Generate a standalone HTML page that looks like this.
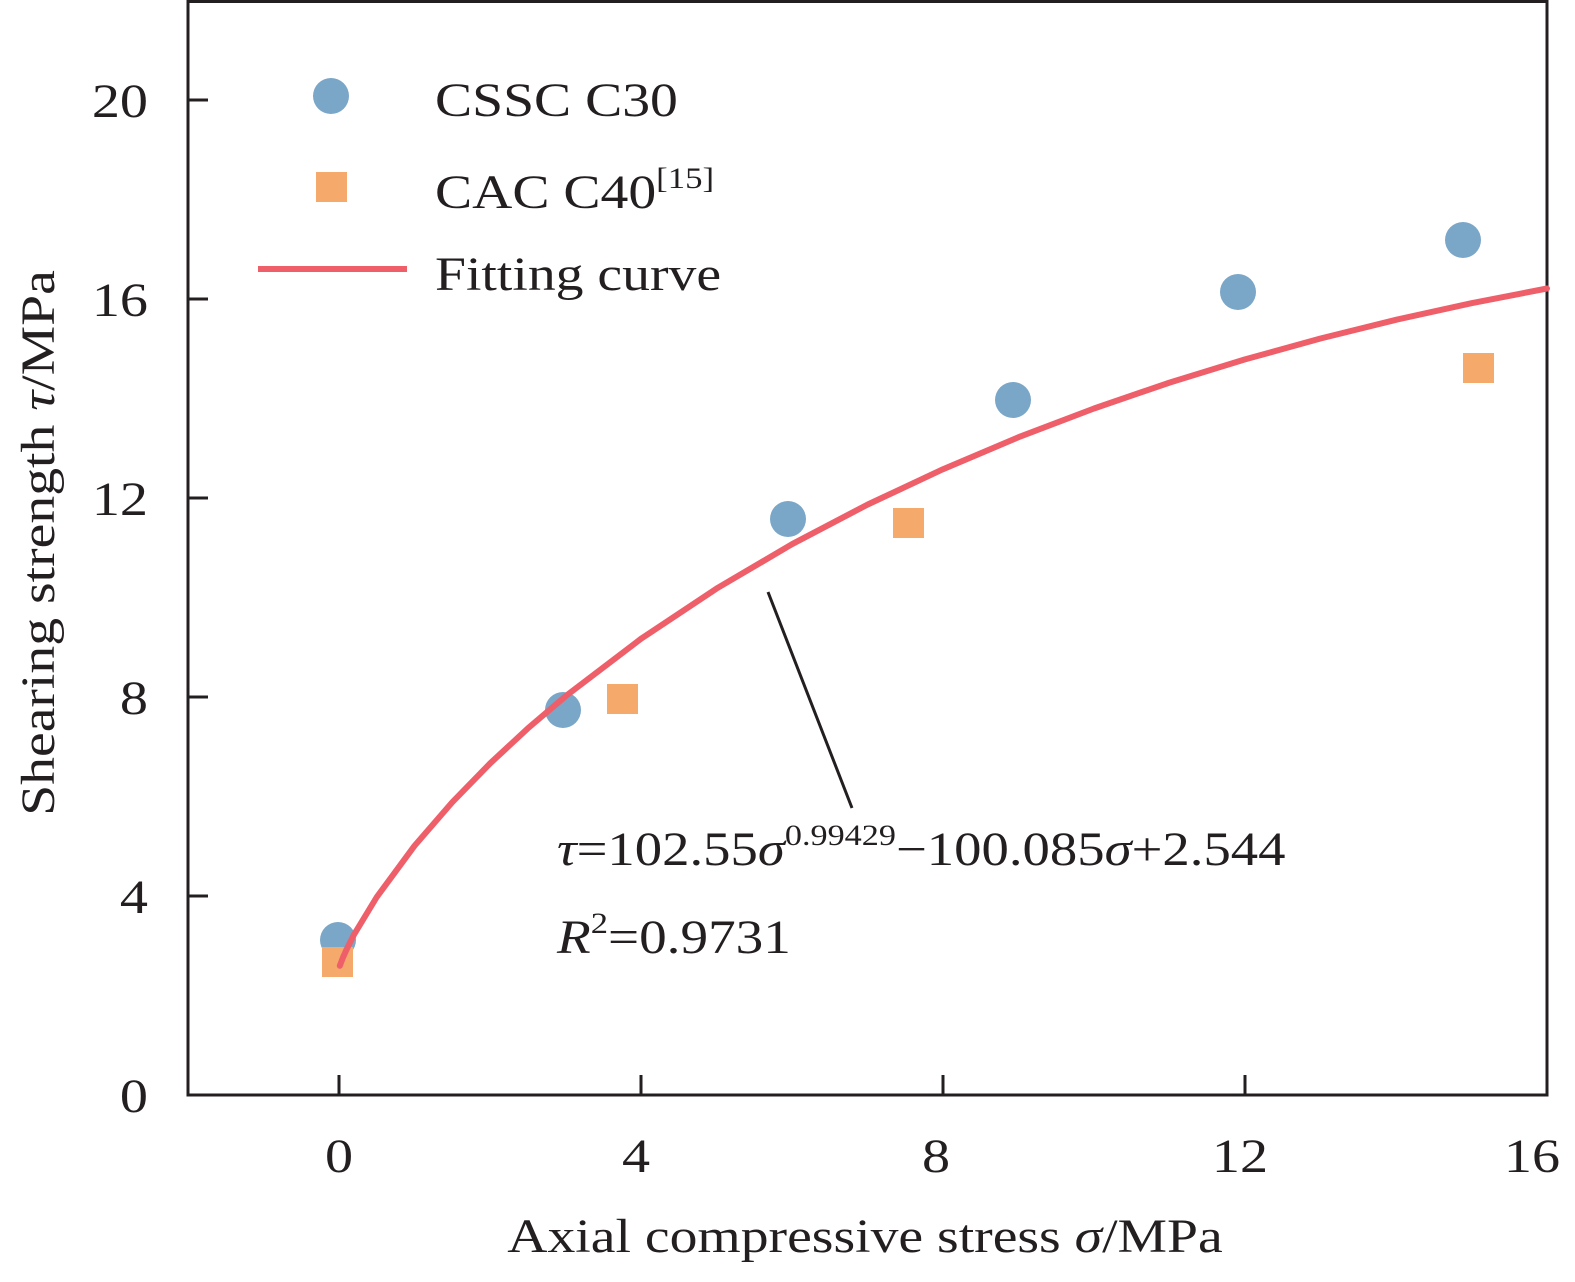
<!DOCTYPE html>
<html><head><meta charset="utf-8"><style>html,body{margin:0;padding:0;background:#fff}</style></head>
<body>
<svg width="1575" height="1277" viewBox="0 0 1575 1277" xmlns="http://www.w3.org/2000/svg" font-family="'Liberation Serif',serif" fill="#231f20">
<rect x="0" y="0" width="1575" height="1277" fill="#fff"/>
<rect x="188" y="1.5" width="1359" height="1093.5" fill="none" stroke="#231f20" stroke-width="3"/>
<g stroke="#231f20" stroke-width="3">
<line x1="339" y1="1095" x2="339" y2="1075"/><line x1="641" y1="1095" x2="641" y2="1075"/><line x1="943" y1="1095" x2="943" y2="1075"/><line x1="1245" y1="1095" x2="1245" y2="1075"/>
<line x1="188" y1="896" x2="208" y2="896"/><line x1="188" y1="697" x2="208" y2="697"/><line x1="188" y1="498" x2="208" y2="498"/><line x1="188" y1="299" x2="208" y2="299"/><line x1="188" y1="100" x2="208" y2="100"/>
</g>
<g font-size="48" text-anchor="end">
<g transform="translate(148,1112) scale(1.17,1)"><text>0</text></g>
<g transform="translate(148,913) scale(1.17,1)"><text>4</text></g>
<g transform="translate(148,714) scale(1.17,1)"><text>8</text></g>
<g transform="translate(148,515) scale(1.17,1)"><text>12</text></g>
<g transform="translate(148,316) scale(1.17,1)"><text>16</text></g>
<g transform="translate(148,117) scale(1.17,1)"><text>20</text></g>
</g>
<g font-size="48" text-anchor="middle">
<g transform="translate(339,1172) scale(1.17,1)"><text>0</text></g>
<g transform="translate(636,1172) scale(1.17,1)"><text>4</text></g>
<g transform="translate(936,1172) scale(1.17,1)"><text>8</text></g>
<g transform="translate(1240,1172) scale(1.17,1)"><text>12</text></g>
<g transform="translate(1532,1172) scale(1.17,1)"><text>16</text></g>
</g>
<g transform="translate(865,1252) scale(1.16,1)"><text font-size="48" text-anchor="middle">Axial compressive stress <tspan font-style="italic">σ</tspan>/MPa</text></g>
<g transform="translate(54,543) rotate(-90) scale(1.16,1)"><text font-size="48" text-anchor="middle">Shearing strength <tspan font-style="italic">τ</tspan>/MPa</text></g>
<g fill="#7aa6c8">
<circle cx="338" cy="940" r="18"/><circle cx="563" cy="710" r="18"/><circle cx="788" cy="519" r="18"/><circle cx="1013" cy="400" r="18"/><circle cx="1238" cy="292" r="18"/><circle cx="1463" cy="240" r="18"/>
<circle cx="331" cy="96" r="18"/>
</g>
<g fill="#f5a96b">
<rect x="322" y="947" width="31" height="30"/><rect x="607" y="684" width="31" height="30"/><rect x="893" y="508" width="31" height="30"/><rect x="1463" y="353" width="31" height="30"/>
<rect x="316" y="172" width="31" height="30"/>
</g>
<polyline fill="none" stroke="#ee5f6a" stroke-width="6" stroke-linejoin="round" stroke-linecap="round" points="339.8,965.8 342.8,957.9 346.6,949.4 354.1,934.4 376.8,897 414.5,845.8 452.3,802.2 490,763.5 527.8,728.4 565.5,696.3 641,638.8 716.5,588.6 792,544.2 867.5,504.6 943,469.2 1018.5,437.2 1094,408.5 1169.5,382.6 1245,359.4 1320.5,338.5 1396,319.8 1471.5,303.2 1547,288.5"/>
<line x1="258" y1="269" x2="407" y2="269" stroke="#ee5f6a" stroke-width="6"/>
<g font-size="48">
<g transform="translate(435,116) scale(1.16,1)"><text>CSSC C30</text></g>
<g transform="translate(435,208) scale(1.16,1)"><text>CAC C40<tspan font-size="30" dy="-20">[15]</tspan></text></g>
<g transform="translate(435,290) scale(1.16,1)"><text>Fitting curve</text></g>
</g>
<line x1="768" y1="592" x2="852" y2="808" stroke="#231f20" stroke-width="3"/>
<g transform="translate(557,865) scale(1.14,1)"><text font-size="48"><tspan font-style="italic">τ</tspan>=102.55<tspan font-style="italic">σ</tspan><tspan font-size="30" dy="-20">0.99429</tspan><tspan dy="20">−100.085</tspan><tspan font-style="italic">σ</tspan>+2.544</text></g>
<g transform="translate(557,953) scale(1.15,1)"><text font-size="48"><tspan font-style="italic">R</tspan><tspan font-size="30" dy="-20">2</tspan><tspan dy="20">=0.9731</tspan></text></g>
</svg>
</body></html>
